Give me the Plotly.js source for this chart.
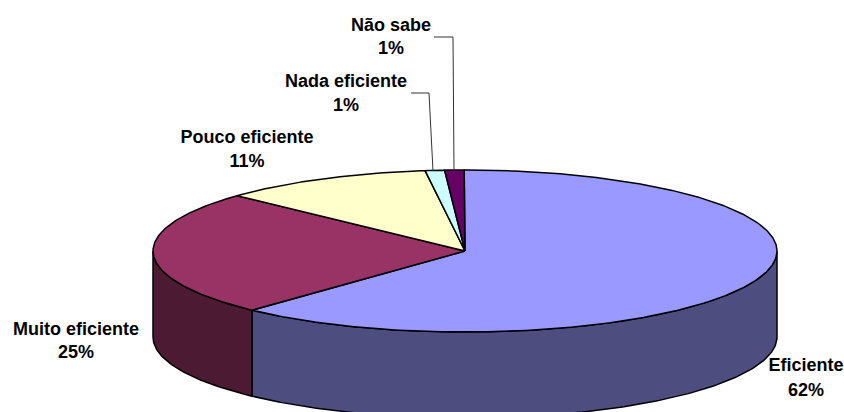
<!DOCTYPE html>
<html>
<head>
<meta charset="utf-8">
<script src="https://cdn.plot.ly/plotly-3.0.1.min.js"></script>
<style>html,body{margin:0;padding:0;background:#fff}#c{width:844px;height:412px}</style>
</head>
<body>
<div id="c"></div>
<script>
const categories = ["Eficiente", "Muito eficiente", "Pouco eficiente", "Nada eficiente", "Não sabe"];
const values = [62, 25, 11, 1, 1];
const topColors = ["#9999FF", "#993366", "#FFFFCC", "#CCFFFF", "#660066"];
const sideColors = ["#4D4D80", "#4D1A33", "#808066", "#668080", "#330033"];
const labelX = [806, 76, 247, 346, 391];
const labelY = [366, 330, 138, 82, 26];
const percentY = [391, 353, 162, 106, 49];

const cx = 465, cy = 251, rx = 312, ry = 81, depth = 86;
const startAngle = -0.15 * Math.PI / 180;
const total = values.reduce((a, b) => a + b, 0);
const px = a => cx + rx * Math.sin(a);
const py = a => cy - ry * Math.cos(a);
const arc = (a0, a1) => {
  const n = Math.max(2, Math.ceil(Math.abs(a1 - a0) * 80));
  return Array.from({length: n + 1}, (_, i) => a0 + (a1 - a0) * i / n);
};
const edge = {color: "#000", width: 1.5};
const sides = [], tops = [];
let cum = 0;
values.forEach((v, i) => {
  const a0 = startAngle + cum / total * 2 * Math.PI;
  cum += v;
  const a1 = startAngle + cum / total * 2 * Math.PI;
  const s0 = Math.max(a0, Math.PI / 2), s1 = Math.min(a1, 3 * Math.PI / 2);
  if (s1 > s0) {
    const f = arc(s0, s1), b = f.slice().reverse();
    sides.push({
      type: "scatter", mode: "lines", fill: "toself", fillcolor: sideColors[i], line: edge, hoverinfo: "skip",
      x: f.map(px).concat(b.map(px), [px(s0)]),
      y: f.map(py).concat(b.map(a => py(a) + depth), [py(s0)])
    });
  }
  const t = arc(a0, a1);
  tops.push({
    type: "scatter", mode: "lines", fill: "toself", fillcolor: topColors[i], line: edge, hoverinfo: "skip",
    x: [cx].concat(t.map(px), [cx]),
    y: [cy].concat(t.map(py), [cy])
  });
});
const leader = (x, y) => ({type: "scatter", mode: "lines", x, y, line: {color: "#333", width: 1}, hoverinfo: "skip"});
const leaders = [
  leader([434, 453, 454], [37, 37, 171]),
  leader([411, 429, 433], [93, 93, 171])
];
const textFont = {family: "Liberation Sans, Arial, sans-serif", size: 18, color: "#000", weight: 700};
const names = {
  type: "scatter", mode: "text", x: labelX, y: labelY, text: categories.map(c => "<b>" + c + "</b>"),
  textposition: "middle center", textfont: textFont, hoverinfo: "skip"
};
const pcts = {
  type: "scatter", mode: "text", x: labelX, y: percentY, text: values.map(v => "<b>" + v + "%</b>"),
  textposition: "middle center", textfont: textFont, hoverinfo: "skip"
};
const axis = {visible: false, fixedrange: true};
Plotly.newPlot("c", sides.concat(tops, leaders, [names, pcts]), {
  width: 844, height: 412, showlegend: false,
  margin: {l: 0, r: 0, t: 0, b: 0},
  paper_bgcolor: "#fff", plot_bgcolor: "#fff",
  xaxis: Object.assign({range: [0, 844]}, axis),
  yaxis: Object.assign({range: [412, 0]}, axis)
}, {displayModeBar: false, staticPlot: true});
</script>
</body>
</html>
